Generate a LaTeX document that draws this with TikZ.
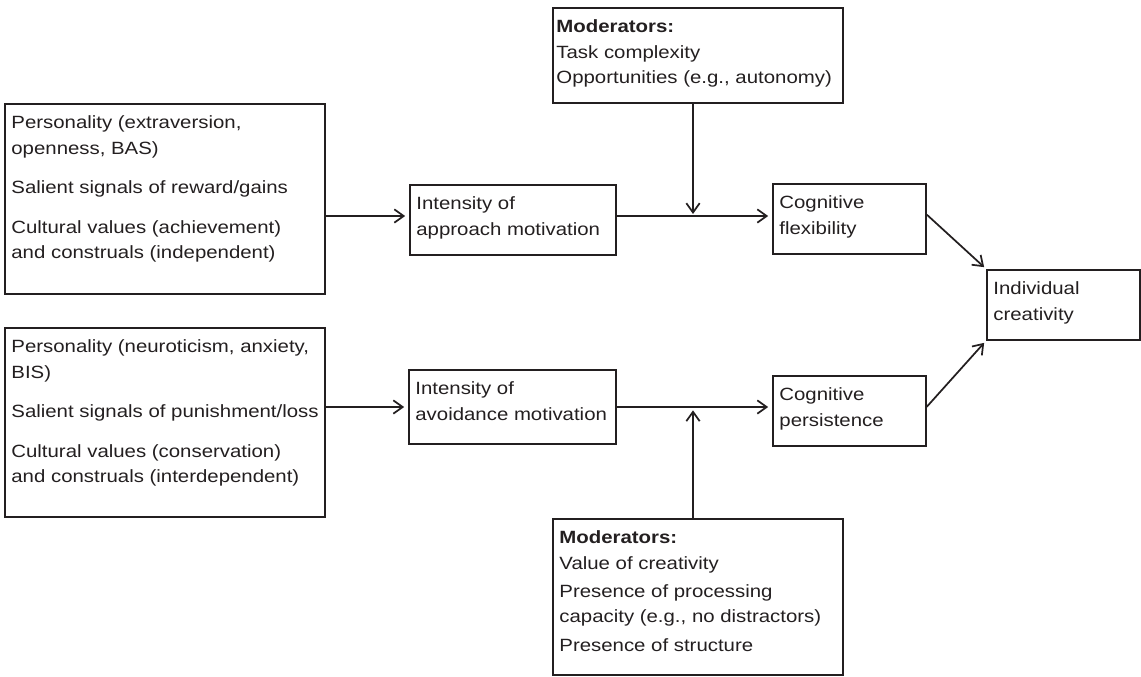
\documentclass[tikz,border=0pt]{standalone}
\usepackage{fontspec}
\setmainfont{Liberation Sans}[FakeStretch=1.15]
\usetikzlibrary{arrows.meta,fit,calc}
\definecolor{ink}{RGB}{35,31,32}
\newcommand\fl{\rule{0pt}{11pt}}
\begin{document}
\begin{tikzpicture}[x=0.75pt,y=-0.75pt,
  box/.style={draw=ink, line width=1.3pt, inner sep=0pt, fit={#1}},
  txt/.style={text=ink, anchor=north west, inner sep=0pt, align=left,
    font=\fontsize{13.3}{19.1}\selectfont},
  arr/.style={draw=ink, line width=1.3pt, -{Straight Barb[length=7pt,width=10pt]}}
]
\useasboundingbox (0,0) rectangle (1141,676);

% boxes
\node[box={(5,104) (325,294)}] (b1) {};
\node[box={(5,328) (325,517)}] (b2) {};
\node[box={(410,185) (616,255)}] (a) {};
\node[box={(409,370) (616,444)}] (v) {};
\node[box={(553,8) (843,103)}] (m1) {};
\node[box={(553,519) (843,675)}] (m2) {};
\node[box={(773,184) (926,254)}] (cf) {};
\node[box={(773,376) (926,446)}] (cp) {};
\node[box={(987,270) (1140,340)}] (ic) {};

% texts
\node[txt] (tb1) at ($(b1.north west)+(7,10.8)$) {\fl Personality (extraversion,\\ openness, BAS)\\[10.5pt]
  Salient signals of reward/gains\\[10.5pt] Cultural values (achievement)\\ and construals (independent)};
\node[txt] (tb2) at ($(b2.north west)+(7,10.8)$) {\fl Personality (neuroticism, anxiety,\\ BIS)\\[10.5pt]
  Salient signals of punishment/loss\\[10.5pt] Cultural values (conservation)\\ and construals (interdependent)};
\node[txt] (ta) at ($(a.north west)+(7,10.8)$) {\fl Intensity of\\ approach motivation};
\node[txt] (tv) at ($(v.north west)+(7,10.8)$) {\fl Intensity of\\ avoidance motivation};
\node[txt] (tm1) at ($(m1.north west)+(4,10.8)$) {\fl\textbf{Moderators:}\\ Task complexity\\ Opportunities (e.g., autonomy)};
\node[txt] (tm2) at ($(m2.north west)+(7,10.8)$) {\fl\textbf{Moderators:}\\ Value of creativity\\[2pt]
  Presence of processing\\ capacity (e.g., no distractors)\\[2pt] Presence of structure};
\node[txt] (tcf) at ($(cf.north west)+(7,10.8)$) {\fl Cognitive\\ flexibility};
\node[txt] (tcp) at ($(cp.north west)+(7,10.8)$) {\fl Cognitive\\ persistence};
\node[txt] (tic) at ($(ic.north west)+(7,10.8)$) {\fl Individual\\ creativity};

% connector rows
\coordinate (r1) at (0,216);
\coordinate (r2) at (0,407);
\coordinate (vx) at (693,0);

\draw[arr, shorten >=3pt] (b1.east |- r1) -- (a.west |- r1);
\draw[arr, shorten >=3pt] (a.east |- r1) -- (cf.west |- r1);
\draw[arr, shorten >=3pt] (b2.east |- r2) -- (v.west |- r2);
\draw[arr, shorten >=3pt] (v.east |- r2) -- (cp.west |- r2);
\draw[arr, shorten >=1.5pt] (m1.south -| vx) -- (vx |- r1);
\draw[arr, shorten >=2.5pt] (m2.north -| vx) -- (vx |- r2);
\draw[arr] ($(cf.north east)!0.44!(cf.south east)$) -- ($(ic.north west)+(-2,-2)$);
\draw[arr] ($(cp.north east)!0.44!(cp.south east)$) -- ($(ic.south west)+(-2,2)$);
\end{tikzpicture}
\end{document}
